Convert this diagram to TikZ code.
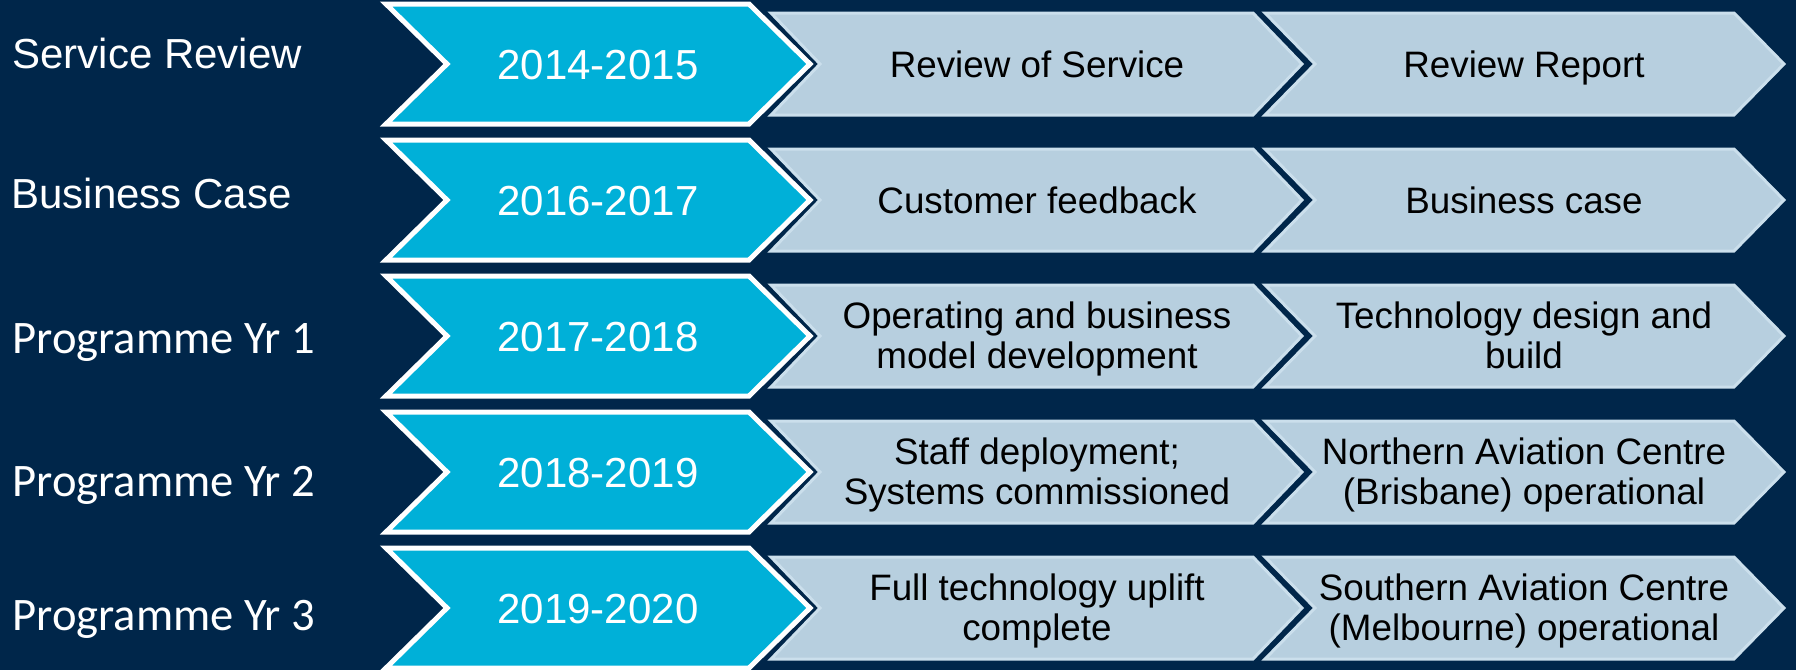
\documentclass[tikz,border=0pt]{standalone}
\usepackage{fontspec}
\setmainfont{Liberation Sans}
\newfontfamily\calibrifont{Carlito}
\definecolor{navy}{HTML}{00264A}
\definecolor{cyanchev}{HTML}{00B0D8}
\definecolor{greychev}{HTML}{B7CFDF}
\definecolor{greyedge}{HTML}{CBDFEC}
\newcommand{\chevron}[6]{%
  \path[#1] (#2,#4-#5) -- (#3,#4-#5) -- ++(#6,#5) -- (#3,#4+#5) -- (#2,#4+#5) -- ++(#6,-#5) -- cycle;}

\begin{document}
\begin{tikzpicture}[x=0.5pt,y=-0.5pt,
    greybox/.style={fill=greychev,draw=greyedge,line width=1.5pt,line join=miter},
    bluehalo/.style={draw=navy,line width=4.5pt,line join=miter},
    bluebox/.style={fill=cyanchev,draw=white,line width=2.5pt,line join=miter},
    yeartext/.style={text=white,font=\fontsize{21}{24}\selectfont,text height=15pt,text depth=0pt,inner sep=0pt},
    steptext/.style={text=black,font=\fontsize{18.4}{20}\selectfont,text height=13.2pt,text depth=0pt,inner sep=0pt},
    steptwo/.style={steptext,text height=33.2pt},
    rowlabel/.style={text=white,anchor=base west,inner sep=0pt,font=\fontsize{21}{24}\selectfont},
    proglabel/.style={rowlabel,font=\calibrifont\fontsize{23.3}{26}\selectfont}]
  \tikzstyle{every node} = [align=center]
    \useasboundingbox (0,0) rectangle (1796,670);
    \fill[navy] (0,0) rectangle (1796,670);

    \foreach \y in {64,200,336,472,608} {
      \chevron{greybox}{1265}{1734}{\y}{51}{50}
      \chevron{greybox}{771}{1253}{\y}{51}{49}
      \chevron{bluehalo}{386}{749}{\y}{60}{61}
      \chevron{bluebox}{386}{749}{\y}{60}{61}
    }

    \node[rowlabel] (l1) at (12,68)  {Service Review};
    \node[rowlabel] (l2) at (11,208) {Business Case};
    \node[proglabel] (l3) at (12,353) {Programme Yr 1};
    \node[proglabel] (l4) at (12,496) {Programme Yr 2};
    \node[proglabel] (l5) at (12,630) {Programme Yr 3};

    \node[yeartext] (y1) at (598,64)  {2014-2015};
    \node[yeartext] (y2) at (598,200) {2016-2017};
    \node[yeartext] (y3) at (598,336) {2017-2018};
    \node[yeartext] (y4) at (598,472) {2018-2019};
    \node[yeartext] (y5) at (598,608) {2019-2020};

    \node[steptext] (a1) at (1037,64)  {Review of Service};
    \node[steptext] (a2) at (1037,200) {Customer feedback};
    \node[steptwo] (a3) at (1037,335) {Operating and business\\model development};
    \node[steptwo] (a4) at (1037,471) {Staff deployment;\\Systems commissioned};
    \node[steptwo] (a5) at (1037,607) {Full technology uplift\\complete};

    \node[steptext] (b1) at (1524,64)  {Review Report};
    \node[steptext] (b2) at (1524,200) {Business case};
    \node[steptwo] (b3) at (1524,335) {Technology design and\\build};
    \node[steptwo] (b4) at (1524,471) {Northern Aviation Centre\\(Brisbane) operational};
    \node[steptwo] (b5) at (1524,607) {Southern Aviation Centre\\(Melbourne) operational};
  \end{tikzpicture}
\end{document}
